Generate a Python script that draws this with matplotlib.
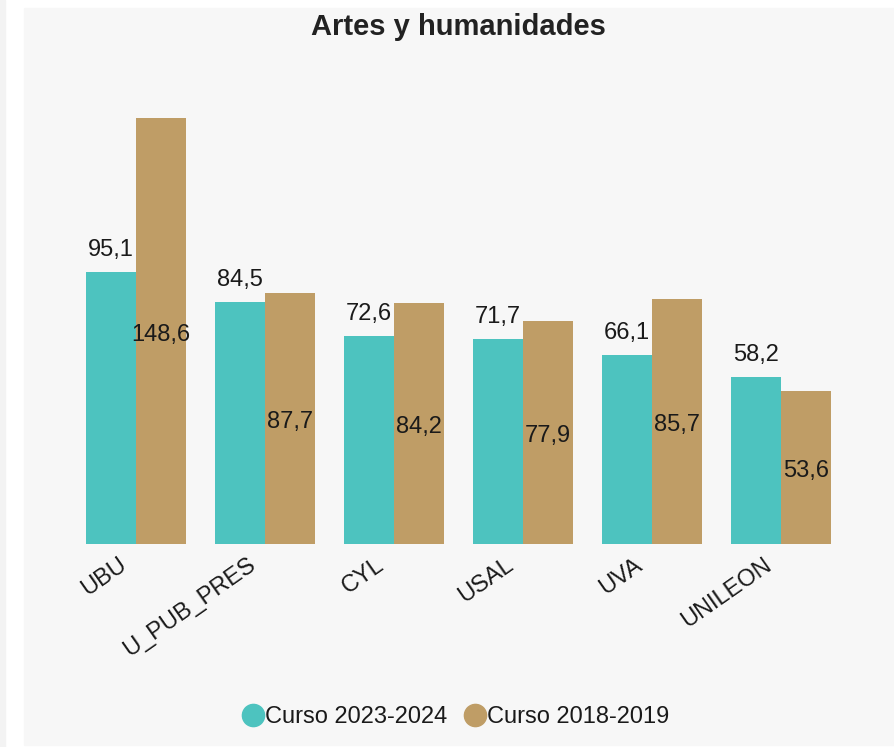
import matplotlib.pyplot as plt
import matplotlib.patches as mpatches
import matplotlib.transforms as mtransforms
from matplotlib.lines import Line2D
import numpy as np

plt.rcParams['font.family'] = ['Liberation Sans', 'DejaVu Sans']

categorias = ['UBU', 'U_PUB_PRES', 'CYL', 'USAL', 'UVA', 'UNILEON']
curso_2023 = [95.1, 84.5, 72.6, 71.7, 66.1, 58.2]
curso_2018 = [148.6, 87.7, 84.2, 77.9, 85.7, 53.6]
series = ['Curso 2023-2024', 'Curso 2018-2019']
colores = ['#4dc3bf', '#bf9d66']

W, H = 895, 747
fig = plt.figure(figsize=(W / 100, H / 100), dpi=100, facecolor='white')

# fondo gris del panel
fig.patches.append(mpatches.Rectangle((24 / W, 2 / H), (W - 24) / W, (H - 10) / H,
                                      transform=fig.transFigure, color='#f7f7f7', zorder=-10))
fig.patches.append(mpatches.Rectangle((0, 0), 5 / W, 1,
                                      transform=fig.transFigure, color='#f3f3f3', zorder=-10))

ax = fig.add_axes([71.5 / W, (H - 544) / H, 774 / W, (544 - 40) / H])
ax.set_facecolor('none')

x = np.arange(len(categorias))
ancho = 50 / 129
b1 = ax.bar(x - ancho / 2, curso_2023, ancho, color=colores[0])
b2 = ax.bar(x + ancho / 2, curso_2018, ancho, color=colores[1])

ax.set_xlim(-0.5, len(categorias) - 0.5)
ax.set_ylim(0, 176)

for rect, v in zip(b1, curso_2023):
    ax.annotate(f'{v:.1f}'.replace('.', ','), (rect.get_x() + rect.get_width() / 2, v),
                xytext=(0, 8), textcoords='offset points', ha='center', va='bottom',
                fontsize=17, color='#1a1a1a')
for rect, v in zip(b2, curso_2018):
    ax.text(rect.get_x() + rect.get_width() / 2, v / 2 - 1.2, f'{v:.1f}'.replace('.', ','),
            ha='center', va='center', fontsize=17, color='#1a1a1a')

for s in ax.spines.values():
    s.set_visible(False)
ax.set_yticks([])
ax.set_xticks(x)
ax.set_xticklabels(categorias, rotation=35, ha='right', rotation_mode='anchor',
                   fontsize=17, color='#1a1a1a')
ax.tick_params(axis='x', length=0, pad=7)
desplaza = mtransforms.ScaledTranslation(-18 / 100, 0, fig.dpi_scale_trans)
for lbl in ax.get_xticklabels():
    lbl.set_transform(lbl.get_transform() + desplaza)

fig.text(458 / W, 1 - 27 / H, 'Artes y humanidades', ha='center', va='center',
         fontsize=21, fontweight='bold', color='#222222')

handles = [Line2D([], [], marker='o', ls='', markersize=16, color=c) for c in colores]
fig.legend(handles, series, loc='center', bbox_to_anchor=(454 / W, 1 - 717 / H),
           ncol=2, frameon=False, fontsize=17, handletextpad=-0.1, columnspacing=0.6,
           handlelength=1.2, labelcolor='#1a1a1a')

fig.savefig('out.png', dpi=100)
